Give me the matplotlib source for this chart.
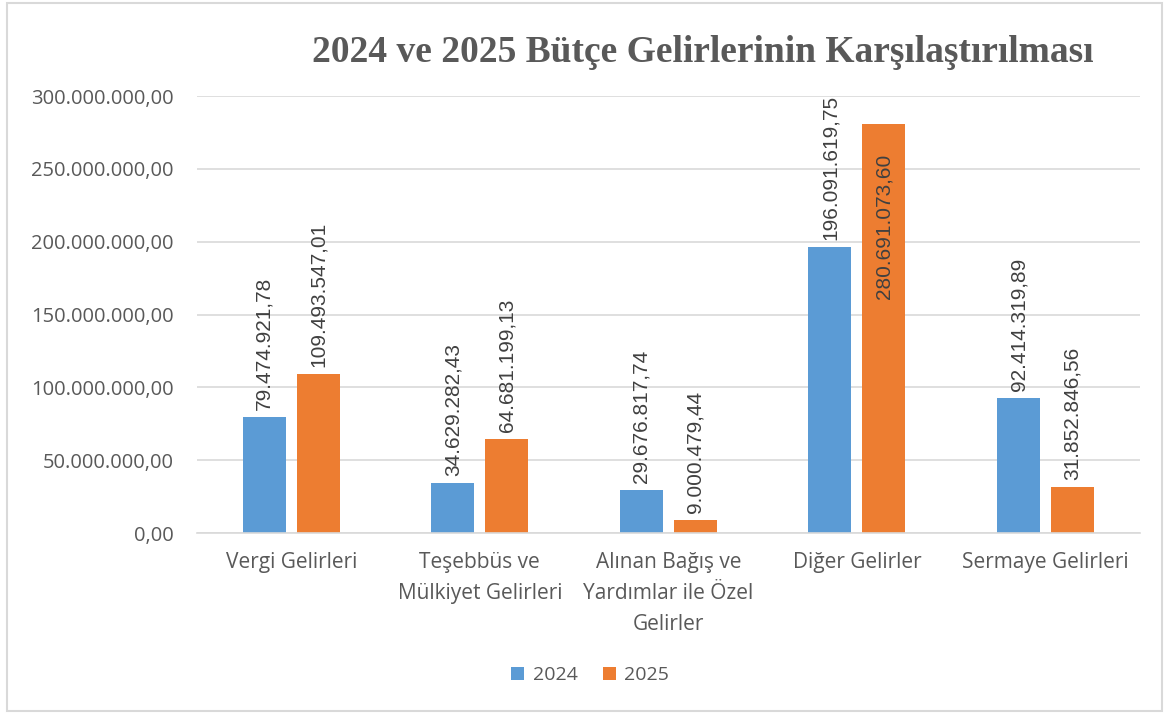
import matplotlib
matplotlib.use('Agg')
import matplotlib.pyplot as plt
import numpy as np
from matplotlib.patches import Rectangle

categories = ['Vergi Gelirleri', 'Teşebbüs ve\nMülkiyet Gelirleri',
              'Alınan Bağış ve\nYardımlar ile Özel\nGelirler', 'Diğer Gelirler',
              'Sermaye Gelirleri']
values_2024 = [79474921.78, 34629282.43, 29676817.74, 196091619.75, 92414319.89]
values_2025 = [109493547.01, 64681199.13, 9000479.44, 280691073.60, 31852846.56]
labels_2024 = ['79.474.921,78', '34.629.282,43', '29.676.817,74', '196.091.619,75', '92.414.319,89']
labels_2025 = ['109.493.547,01', '64.681.199,13', '9.000.479,44', '280.691.073,60', '31.852.846,56']
yticks = [0, 50e6, 100e6, 150e6, 200e6, 250e6, 300e6]
ytick_labels = ['0,00', '50.000.000,00', '100.000.000,00', '150.000.000,00',
                '200.000.000,00', '250.000.000,00', '300.000.000,00']

BLUE = '#5B9BD5'
ORANGE = '#ED7D31'
TXT = '#595959'
plt.rcParams['font.family'] = ['Open Sans', 'DejaVu Sans']

fig = plt.figure(figsize=(11.69, 7.15), dpi=100)
fig.patches.append(Rectangle((0.006, 0.006), 0.988, 0.99, transform=fig.transFigure,
                             fill=False, edgecolor='#D9D9D9', linewidth=1.5))
ax = fig.add_axes([0.1685, 0.2545, 0.8065, 0.6112])

x = np.arange(len(categories))
w = 0.228
gap = 0.058
b1 = ax.bar(x - (w + gap) / 2, values_2024, w, color=BLUE, label='2024', zorder=2)
b2 = ax.bar(x + (w + gap) / 2, values_2025, w, color=ORANGE, label='2025', zorder=2)

ax.set_ylim(0, 300e6)
ax.set_xlim(-0.5, len(categories) - 0.5)
ax.set_yticks(yticks)
ax.set_yticklabels(ytick_labels)
ax.set_xticks(x)
ax.set_xticklabels(categories, linespacing=1.6)
ax.tick_params(axis='y', length=0, pad=17, labelsize=14.5, labelcolor=TXT)
ax.tick_params(axis='x', length=0, pad=14, labelsize=15, labelcolor=TXT)
ax.grid(axis='y', color='#D9D9D9', linewidth=1.2, zorder=0)
for s in ['top', 'right', 'left']:
    ax.spines[s].set_visible(False)
ax.spines['bottom'].set_color('#D9D9D9')
ax.spines['bottom'].set_linewidth(1.2)

for bars, labs in [(b1, labels_2024), (b2, labels_2025)]:
    for bar, lab in zip(bars, labs):
        cx = bar.get_x() + bar.get_width() / 2
        h = bar.get_height()
        if h > 250e6:
            ax.annotate(lab, (cx, h), xytext=(0, -21), textcoords='offset points',
                        rotation=90, ha='center', va='top', fontsize=15,
                        family='Liberation Sans', color='#404040')
        else:
            ax.annotate(lab, (cx, h), xytext=(0, 5), textcoords='offset points',
                        rotation=90, ha='center', va='bottom', fontsize=15,
                        family='Liberation Sans', color='#404040')

fig.text(0.601, 0.927, '2024 ve 2025 Bütçe Gelirlerinin Karşılaştırılması',
         family='Liberation Serif', fontweight='bold', fontsize=27, color=TXT,
         ha='center', va='center')

fig.legend(handles=[b1, b2], labels=['2024', '2025'], loc='center',
           bbox_to_anchor=(0.505, 0.056), ncol=2, frameon=False, fontsize=14,
           labelcolor=TXT, handlelength=0.65, handleheight=0.65, handletextpad=0.45,
           columnspacing=1.3)

fig.savefig('out.png', dpi=100)
